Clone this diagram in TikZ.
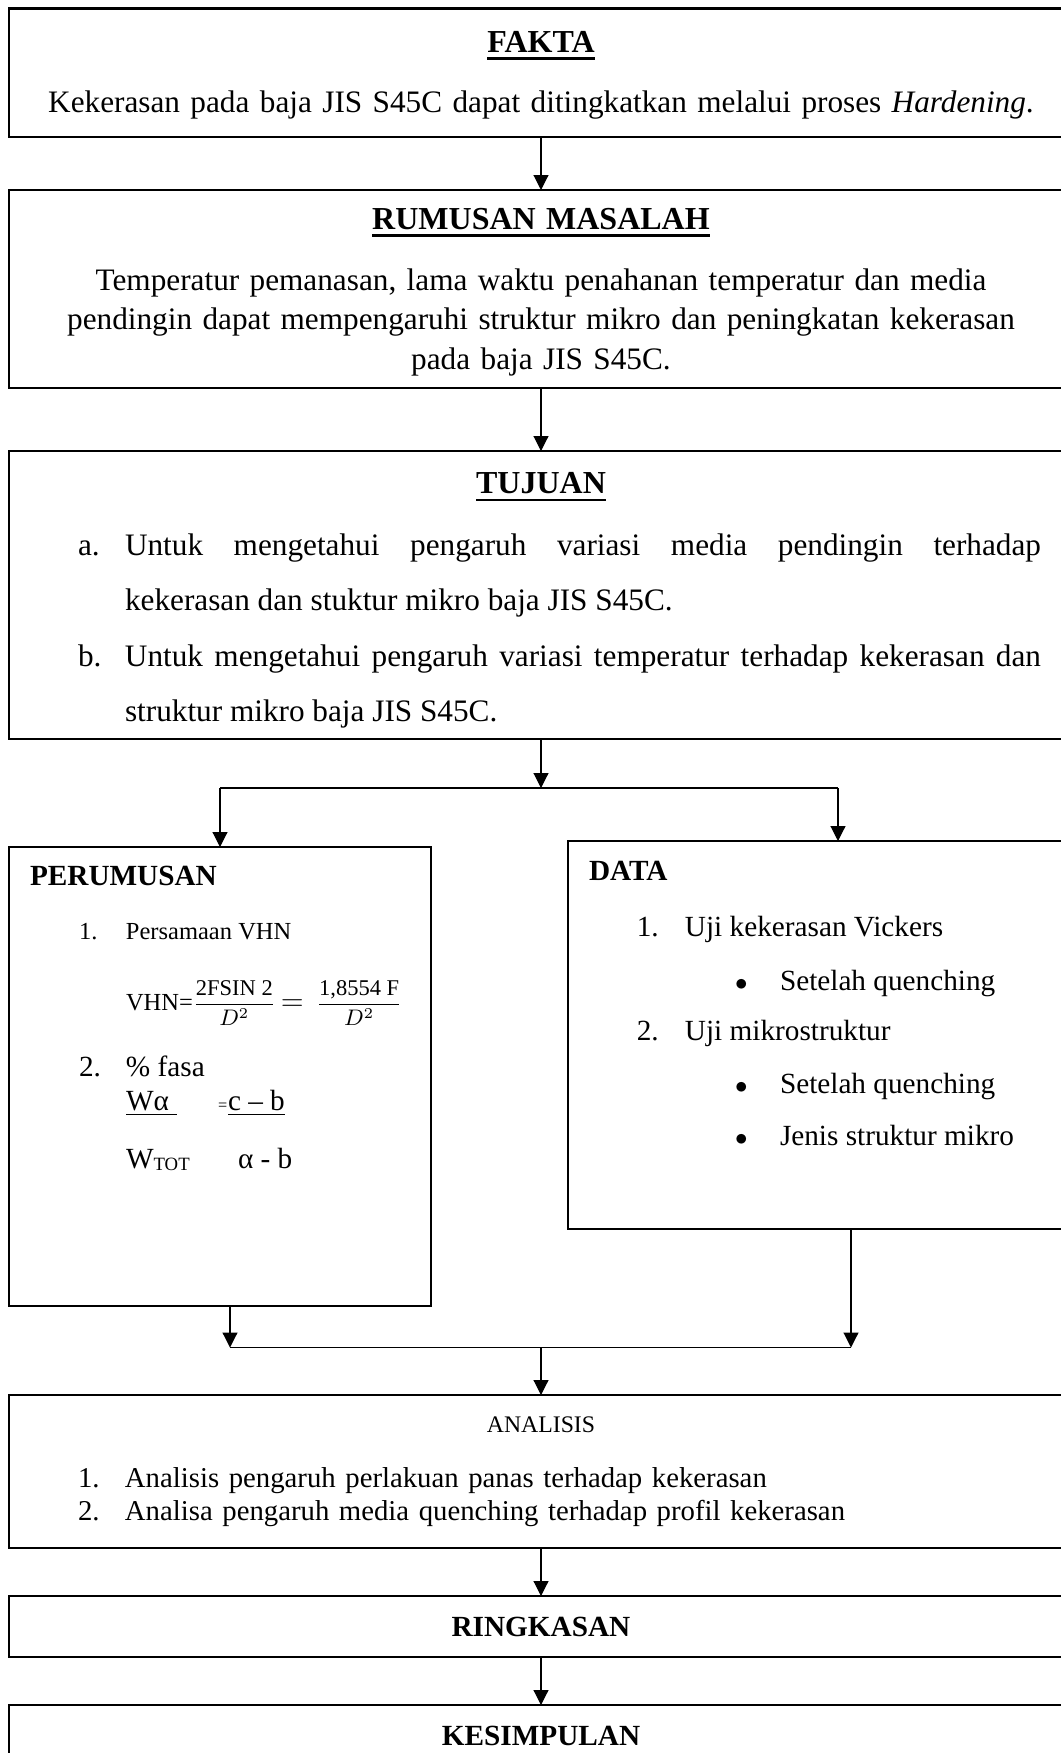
\documentclass[tikz,border=0pt]{standalone}
\usepackage{amsmath}
\usepackage{fontspec}
\setmainfont{Liberation Serif}
\usetikzlibrary{arrows.meta, positioning}
\setlength{\parindent}{0pt}

\newcommand{\boxtitle}[1]{{\fontsize{12.8}{15.7}\selectfont\bfseries\setbox0\hbox{#1}\rlap{\rule[-3pt]{\wd0}{1.1pt}}\box0}}
\newcommand{\mainsize}{\fontsize{12.5}{15.7}\selectfont}
\newcommand{\sidesize}{\fontsize{11.7}{14}\selectfont}

\begin{document}
\begin{tikzpicture}[
    mainbox/.style={rectangle, draw, line width=1.1pt, inner sep=0pt, outer sep=0pt, text width=425.6pt, minimum width=425.6pt, align=center, font=\mainsize},
    sidebox/.style={rectangle, draw, line width=0.8pt, inner sep=0pt, outer sep=0pt, font=\sidesize},
    arrow/.style={-{Triangle[length=6pt, width=6pt]}, line width=0.45pt},
    link/.style={line width=0.45pt}
]
\useasboundingbox (0,0) rectangle (424pt,-701.2pt);

\node[mainbox, minimum height=51.4pt, anchor=north] (fakta) at (216.4pt,-3.4pt) {\rule{0pt}{10.5pt}\boxtitle{FAKTA}\\[8.3pt]
Kekerasan pada baja JIS S45C dapat ditingkatkan melalui proses \textit{Hardening}.};

\node[mainbox, minimum height=79.2pt, below=21.2pt of fakta] (rumusan) {\rule{0pt}{11pt}\boxtitle{RUMUSAN MASALAH}\\[8.7pt]
Temperatur pemanasan, lama waktu penahanan temperatur dan media\\
pendingin dapat mempengaruhi struktur mikro dan peningkatan kekerasan\\
pada baja JIS S45C.};

\node[mainbox, minimum height=115.2pt, below=25.2pt of rumusan, align=justify, font=\fontsize{12.5}{22.2}\selectfont] (tujuan) {%
{\centering\rule{0pt}{12.9pt}\boxtitle{TUJUAN}\par}\vspace{2.4pt}
\leftskip=46.4pt \rightskip=12.8pt \tolerance=10000 \hyphenpenalty=10000
\noindent\llap{\makebox[18.8pt][l]{a.}}Untuk mengetahui pengaruh variasi media pendingin terhadap\linebreak
kekerasan dan stuktur mikro baja JIS S45C.\par
\noindent\llap{\makebox[18.8pt][l]{b.}}Untuk mengetahui pengaruh variasi temperatur terhadap kekerasan dan\linebreak
struktur mikro baja JIS S45C.\par};

\node[sidebox, below=43.2pt of tujuan.south west, anchor=north west] (perumusan) {\parbox[c][183.6pt][t]{168.8pt}{\sidesize\lineskiplimit=-20pt
\rule{0pt}{15.2pt}\hspace*{8.4pt}\textbf{PERUMUSAN}\\[7.6pt]
{\fontsize{9.8}{14}\selectfont\hspace*{28pt}\makebox[18.8pt][l]{1.}Persamaan VHN}\\[14.4pt]
\hspace*{46.8pt}{\fontsize{9.8}{14}\selectfont VHN=}{\fontsize{9}{10}\selectfont$\dfrac{\mbox{2FSIN 2}}{D^2}$}\hspace{2pt}{\fontsize{13}{14}\selectfont$=$}\hspace{5pt}{\fontsize{9}{10}\selectfont$\dfrac{\mbox{1,8554 F}}{D^2}$}\\[12.7pt]
\hspace*{28pt}\makebox[18.8pt][l]{2.}\%~fasa\\[-0.7pt]
\hspace*{46.8pt}\underline{\makebox[20.4pt][l]{Wα}}\hspace*{16.4pt}\makebox[4pt][l]{\fontsize{6.5}{7}\selectfont =}\underline{\makebox[22.8pt][l]{c – b}}\\[9.3pt]
\hspace*{46.8pt}\makebox[44.8pt][l]{W\raisebox{-1pt}{\fontsize{7.5}{9}\selectfont TOT}}α - b}};

\node[sidebox, line width=0.55pt, below=40.8pt of tujuan.south west, xshift=223.6pt, anchor=north west] (data) {\parbox[c][155.2pt][t]{216pt}{\sidesize\lineskiplimit=-20pt
\rule{0pt}{15.6pt}\hspace*{8.4pt}\textbf{DATA}\\[8.7pt]
\hspace*{27.5pt}\makebox[19.3pt][l]{1.}Uji kekerasan Vickers\\[7.3pt]
\hspace*{66.8pt}\makebox[18pt][l]{\fontsize{10}{14}\selectfont$\bullet$}Setelah quenching\\[6.3pt]
\hspace*{27.5pt}\makebox[19.3pt][l]{2.}Uji mikrostruktur\\[7pt]
\hspace*{66.8pt}\makebox[18pt][l]{\fontsize{10}{14}\selectfont$\bullet$}Setelah quenching\\[6.7pt]
\hspace*{66.8pt}\makebox[18pt][l]{\fontsize{10}{14}\selectfont$\bullet$}Jenis struktur mikro}};

\node[mainbox, minimum height=61.2pt, below=262.4pt of tujuan, align=left, font=\fontsize{11.5}{13.4}\selectfont] (analisis) {%
{\centering\fontsize{9.5}{14}\selectfont ANALISIS\par}\vspace{8.6pt}
\leftskip=46.4pt
\noindent\llap{\makebox[18.8pt][l]{1.}}Analisis pengaruh perlakuan panas terhadap kekerasan\par
\noindent\llap{\makebox[18.8pt][l]{2.}}Analisa pengaruh media quenching terhadap profil kekerasan\par};

\node[mainbox, minimum height=24.4pt, below=19.2pt of analisis, font=\sidesize] (ringkasan) {\textbf{RINGKASAN}};
\node[mainbox, minimum height=24.4pt, below=19.2pt of ringkasan, font=\sidesize] (kesimpulan) {\textbf{KESIMPULAN}};

% split and merge points
\coordinate[below=19.6pt of tujuan] (split);
\coordinate[above=19pt of analisis] (merge);
\coordinate (perout) at ([xshift=4pt]perumusan.south);
\coordinate (dataout) at ([xshift=5.2pt]data.south);

\draw[arrow] (fakta) -- (rumusan);
\draw[arrow] (rumusan) -- (tujuan);
\draw[arrow] (tujuan) -- (split);
\draw[link] (perumusan.north |- split) -- (data.north |- split);
\draw[arrow] (perumusan.north |- split) -- (perumusan);
\draw[arrow] (data.north |- split) -- (data);
\draw[arrow] (perout) -- (perout |- merge);
\draw[arrow] (dataout) -- (dataout |- merge);
\draw[link] (perout |- merge) -- (dataout |- merge);
\draw[arrow] (merge) -- (analisis);
\draw[arrow] (analisis) -- (ringkasan);
\draw[arrow] (ringkasan) -- (kesimpulan);
\end{tikzpicture}
\end{document}
